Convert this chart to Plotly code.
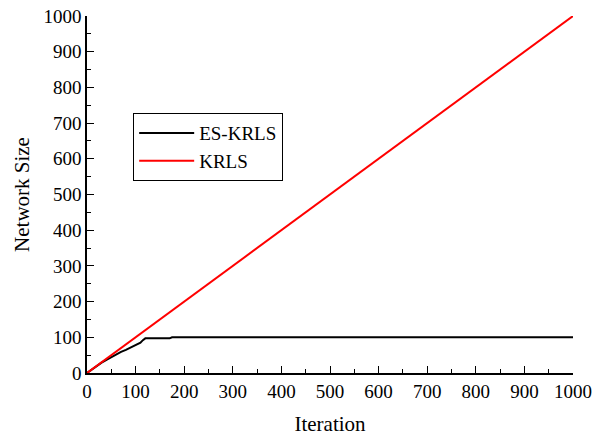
import plotly.graph_objects as go

# KRLS: network size grows with every iteration
krls_x = [0, 1000]
krls_y = [0, 1000]

# ES-KRLS: sparsified network size
es_x = [0, 10, 20, 30, 40, 50, 60, 70, 80, 90, 95, 100, 105, 110, 115, 120, 130, 170, 175, 1000]
es_y = [0, 10, 20, 29, 37, 45, 52, 59, 65, 71, 75, 78, 81, 85, 92, 97, 97, 97, 100, 100]

x_ticks = [0, 100, 200, 300, 400, 500, 600, 700, 800, 900, 1000]
y_ticks = [0, 100, 200, 300, 400, 500, 600, 700, 800, 900, 1000]

font = "Liberation Serif, Times New Roman, serif"

fig = go.Figure()
fig.add_trace(go.Scatter(x=es_x, y=es_y, mode="lines", name="ES-KRLS",
                         line=dict(color="black", width=2)))
fig.add_trace(go.Scatter(x=krls_x, y=krls_y, mode="lines", name="KRLS",
                         line=dict(color="#ff0000", width=2)))

axis_common = dict(
    showgrid=False, zeroline=False, showline=True, linecolor="black", linewidth=1.5,
    ticks="inside", ticklen=7, tickwidth=1.3, tickcolor="black",
    tickfont=dict(family=font, size=19, color="black"),
    minor=dict(ticks="inside", ticklen=4, tickwidth=1.2, tickcolor="black", dtick=50),
    mirror=False, automargin=False, ticklabeloverflow="allow",
)

fig.update_layout(
    width=594, height=439,
    margin=dict(l=87, r=21, t=16, b=66),
    paper_bgcolor="white", plot_bgcolor="white",
    font=dict(family=font, color="black"),
    xaxis=dict(range=[0, 1000], tickvals=x_ticks, ticktext=[str(v) for v in x_ticks],
               title=dict(text="Iteration", font=dict(family=font, size=21), standoff=16),
               **axis_common),
    yaxis=dict(range=[0, 1000], tickvals=y_ticks, ticktext=[str(v) for v in y_ticks],
               title=dict(text="Network Size", font=dict(family=font, size=21), standoff=8),
               **axis_common),
    legend=dict(x=0.095, y=0.728, xanchor="left", yanchor="top",
                bordercolor="black", borderwidth=1, bgcolor="white",
                font=dict(family=font, size=19), tracegroupgap=0,
                itemwidth=55),
    showlegend=True,
)

fig.write_html(
    "out.html",
    config={"displayModeBar": False},
    post_script="document.body.style.margin='0';document.body.style.overflow='hidden';",
)
